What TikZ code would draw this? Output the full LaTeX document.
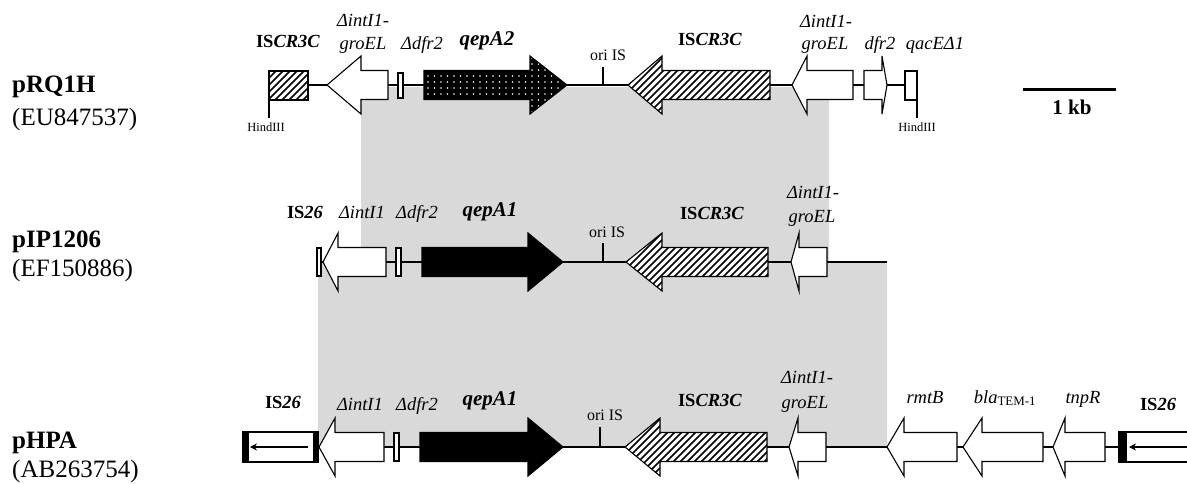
\documentclass[tikz,border=0pt]{standalone}
\usepackage{fontspec}
\setmainfont{Liberation Serif}
\usetikzlibrary{arrows.meta}

% right-pointing gene arrow: [style]{shaft start}{head back}{tip}{y}
\newcommand{\garR}[5][]{\draw[arr,#1] (#2,#5-14.5) -- (#3,#5-14.5) -- (#3,#5-29) -- (#4,#5) -- (#3,#5+29) -- (#3,#5+14.5) -- (#2,#5+14.5) -- cycle;}
% left-pointing gene arrow: [style]{tip}{head back}{shaft end}{y}
\newcommand{\garL}[5][]{\draw[arr,#1] (#2,#5) -- (#3,#5-29) -- (#3,#5-14.5) -- (#4,#5-14.5) -- (#4,#5+14.5) -- (#3,#5+14.5) -- (#3,#5+29) -- cycle;}
% hatched left arrow: {tip}{head back}{shaft end}{y}
\newcommand{\hatchL}[4]{%
  \begin{scope}
    \clip (#1,#4) -- (#2,#4-29) -- (#2,#4-14.5) -- (#3,#4-14.5) -- (#3,#4+14.5) -- (#2,#4+14.5) -- (#2,#4+29) -- cycle;
    \fill[white] (#1,#4-30) rectangle (#3,#4+30);
    \foreach \k in {0,...,36} \draw[hl1] (#1-70+\k*7,#4+35) -- ++(70,-70);
  \end{scope}
  \garL[fill=none]{#1}{#2}{#3}{#4}}
% dotted right arrow: {shaft start}{head back}{tip}{y}
\newcommand{\dotR}[4]{%
  \begin{scope}
    \clip (#1,#4-14.5) -- (#2,#4-14.5) -- (#2,#4-29) -- (#3,#4) -- (#2,#4+29) -- (#2,#4+14.5) -- (#1,#4+14.5) -- cycle;
    \fill[black] (#1,#4-30) rectangle (#3,#4+30);
    \foreach \i in {0,...,22} \foreach \j in {0,...,9} \fill[white] (#1+4+\i*6.5,#4-27+\j*6) circle (0.85);
  \end{scope}
  \garR[fill=none]{#1}{#2}{#3}{#4}}

\begin{document}
\begin{tikzpicture}[x=1pt,y=-1pt,
  arr/.style={draw=black,line width=1.1pt,fill=white,line join=miter},
  hl1/.style={line width=1.6pt,black},
  solid black/.style={fill=black},
  bb/.style={line width=1.1pt},
  gl/.style={font=\fontsize{18.5}{22}\selectfont\itshape,anchor=base,inner sep=0pt},
  bl/.style={font=\fontsize{18.5}{22}\selectfont\bfseries,anchor=base,inner sep=0pt},
  ql/.style={font=\fontsize{21}{24}\selectfont\bfseries\itshape,anchor=base,inner sep=0pt},
  ol/.style={font=\fontsize{16}{18}\selectfont,anchor=base,inner sep=0pt},
  hl/.style={font=\fontsize{12.5}{14}\selectfont,anchor=base,inner sep=0pt},
  pl/.style={font=\fontsize{25}{28}\selectfont\bfseries,anchor=base west,inner sep=0pt},
  al/.style={font=\fontsize{25}{28}\selectfont,anchor=base west,inner sep=0pt}]
\useasboundingbox (0,0) rectangle (1187,483);

% grey homology region
\fill[black!15] (361,87) -- (829,87) -- (829,262) -- (887,262) -- (887,447)
  -- (318,447) -- (318,262) -- (361,262) -- cycle;

% ---------- plasmid names ----------
\node[pl] (n1) at (12,92) {pRQ1H};
\node[al] (a1) at (12,125) {(EU847537)};
\node[pl] (n2) at (12,247) {pIP1206};
\node[al] (a2) at (12,276) {(EF150886)};
\node[pl] (n3) at (12,448) {pHPA};
\node[al] (a3) at (12,477) {(AB263754)};

% ---------- row 1 : pRQ1H ----------
\draw[bb] (308,85) -- (905,85);
\draw[bb] (269,85) -- (269,118);
\begin{scope}
  \clip (269,71) rectangle (308,100);
  \fill[white] (269,71) rectangle (308,100);
  \foreach \k in {0,...,15} \draw[hl1] (199+\k*7,120) -- ++(70,-70);
\end{scope}
\draw[arr,fill=none] (269,71) rectangle (308,100);
\garL{327}{361}{388}{85}
\draw[arr] (398,73) rectangle (403,98);
\dotR{424}{530}{567}{85}
\draw[bb] (603,85) -- (603,67);
\hatchL{628}{662}{770}{85}
\garL{792}{807}{853}{85}
\draw[arr] (864,70.5) -- (882,70.5) -- (882,56) -- (887,85) -- (882,114) -- (882,99.5) -- (864,99.5) -- cycle;
\draw[arr] (905,71) rectangle (917,100);
\draw[bb] (917,70) -- (917,118);
\draw[line width=3pt] (1023,89) -- (1116,89);

\node[bl] (l11) at (288,47) {IS\textit{CR3C}};
\node[gl] (l12a) at (363,26) {ΔintI1-};
\node[gl] (l12b) at (363,49) {groEL};
\node[gl] (l13) at (422,49) {Δdfr2};
\node[ql] (l14) at (487,45) {qepA2};
\node[ol] (l15) at (608,60) {ori IS};
\node[bl] (l16) at (710,45) {IS\textit{CR3C}};
\node[gl] (l17a) at (826,27) {ΔintI1-};
\node[gl] (l17b) at (825,49) {groEL};
\node[gl] (l18) at (880,49) {dfr2};
\node[gl] (l19) at (935,49) {qacEΔ1};
\node[hl] (h1) at (266,131) {HindIII};
\node[hl] (h2) at (917,131) {HindIII};
\node[bl,font=\fontsize{21}{24}\selectfont\bfseries] (kb) at (1072,114) {1 kb};

% ---------- row 2 : pIP1206 ----------
\draw[bb] (321,262) -- (887,262);
\draw[arr] (317,248) rectangle (321,276);
\garL{323}{338}{386}{262}
\draw[arr] (396,248) rectangle (401,276);
\garR[solid black]{422}{528}{563}{262}
\draw[bb] (603,262) -- (603,243);
\hatchL{626}{662}{768}{262}
\garL{791}{799}{827}{262}

\node[bl] (l21) at (305,218) {IS\textit{26}};
\node[gl] (l22) at (362,218) {ΔintI1};
\node[gl] (l23) at (417,218) {Δdfr2};
\node[ql] (l24) at (490,216) {qepA1};
\node[ol] (l25) at (607,237) {ori IS};
\node[bl] (l26) at (712,219) {IS\textit{CR3C}};
\node[gl] (l27a) at (813,198) {ΔintI1-};
\node[gl] (l27b) at (812,222) {groEL};

% ---------- row 3 : pHPA ----------
\draw[bb] (318,447) -- (1119,447);
\draw[arr] (243,432) rectangle (318,462);
\fill (243,432) rectangle (249,462);
\fill (313,432) rectangle (318,462);
\draw[bb,-{Stealth[length=7pt,width=7pt]}] (308,447) -- (250,447);
\garL{319}{335}{384}{447}
\draw[arr] (394,433) rectangle (399,461);
\garR[solid black]{420}{528}{563}{447}
\draw[bb] (600,447) -- (600,427);
\hatchL{625}{660}{767}{447}
\garL{789}{798}{826}{447}
\garL{887}{904}{957}{447}
\garL{963}{982}{1043}{447}
\garL{1053}{1065}{1105}{447}
\draw[arr,fill=none] (1190,432) -- (1119,432) -- (1119,462) -- (1190,462);
\fill (1119,432) rectangle (1127,462);
\draw[bb,-{Stealth[length=7pt,width=7pt]}] (1190,447) -- (1129,447);

\node[bl] (l31) at (283,408) {IS\textit{26}};
\node[gl] (l32) at (360,410) {ΔintI1};
\node[gl] (l33) at (417,410) {Δdfr2};
\node[ql] (l34) at (490,405) {qepA1};
\node[ol] (l35) at (605,420) {ori IS};
\node[bl] (l36) at (710,406) {IS\textit{CR3C}};
\node[gl] (l37a) at (807,383) {ΔintI1-};
\node[gl] (l37b) at (805,408) {groEL};
\node[gl] (l38) at (925,403) {rmtB};
\node[gl] (l39) at (1005,403) {bla\textsubscript{\upshape TEM-1}};
\node[gl] (l310) at (1083,403) {tnpR};
\node[bl] (l311) at (1158,410) {IS\textit{26}};
\end{tikzpicture}
\end{document}
